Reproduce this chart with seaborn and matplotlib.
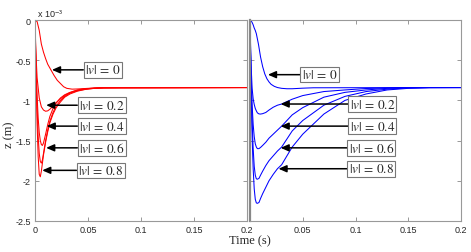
import numpy as np
import pandas as pd
import matplotlib
matplotlib.use('Agg')
import matplotlib.pyplot as plt
import seaborn as sns

# speeds shown in the annotations
speeds = ['0', '0.2', '0.4', '0.6', '0.8']

# left panel (red), z in units of 1e-3 m
red_t = {
    '0':   [0, 0.002, 0.004, 0.006, 0.008, 0.010, 0.012, 0.015, 0.018, 0.021, 0.024, 0.027,
            0.030, 0.035, 0.040, 0.050, 0.060, 0.080, 0.2],
    '0.2': [0, 0.0005, 0.001, 0.002, 0.004, 0.006, 0.008, 0.010, 0.012, 0.014, 0.017, 0.020,
            0.024, 0.028, 0.032, 0.037, 0.043, 0.050, 0.060, 0.2],
    '0.4': [0, 0.0005, 0.001, 0.002, 0.003, 0.004, 0.005, 0.006, 0.007, 0.008, 0.010, 0.012,
            0.014, 0.017, 0.020, 0.024, 0.028, 0.033, 0.040, 0.048, 0.056, 0.065, 0.2],
    '0.6': [0, 0.0005, 0.001, 0.002, 0.003, 0.004, 0.005, 0.006, 0.007, 0.008, 0.010, 0.012,
            0.014, 0.017, 0.020, 0.024, 0.028, 0.033, 0.040, 0.048, 0.056, 0.065, 0.2],
    '0.8': [0, 0.0005, 0.001, 0.002, 0.003, 0.004, 0.005, 0.006, 0.007, 0.008, 0.010, 0.012,
            0.014, 0.017, 0.020, 0.024, 0.028, 0.033, 0.040, 0.048, 0.056, 0.065, 0.2],
}
red_z = {
    '0':   [0, -0.02, -0.13, -0.30, -0.40, -0.48, -0.55, -0.62, -0.69, -0.75, -0.79, -0.83,
            -0.85, -0.86, -0.858, -0.85, -0.845, -0.84, -0.84],
    '0.2': [0, -0.25, -0.45, -0.72, -0.97, -1.08, -1.12, -1.135, -1.13, -1.11, -1.07, -1.03,
            -0.98, -0.94, -0.91, -0.885, -0.865, -0.853, -0.845, -0.84],
    '0.4': [0, -0.3, -0.55, -0.95, -1.22, -1.40, -1.50, -1.55, -1.56, -1.53, -1.42, -1.30,
            -1.20, -1.10, -1.03, -0.97, -0.93, -0.90, -0.87, -0.855, -0.847, -0.842, -0.84],
    '0.6': [0, -0.35, -0.65, -1.1, -1.45, -1.66, -1.76, -1.78, -1.74, -1.66, -1.50, -1.37,
            -1.26, -1.15, -1.07, -1.0, -0.95, -0.91, -0.88, -0.86, -0.85, -0.843, -0.84],
    '0.8': [0, -0.4, -0.75, -1.3, -1.7, -1.92, -1.95, -1.88, -1.78, -1.68, -1.52, -1.39,
            -1.28, -1.17, -1.09, -1.02, -0.96, -0.92, -0.885, -0.862, -0.85, -0.843, -0.84],
}

# right panel (blue)
blue_t0 = [0, 0.001, 0.002, 0.003, 0.004, 0.005, 0.006, 0.008, 0.010, 0.012, 0.014, 0.016,
           0.018, 0.020, 0.023, 0.026, 0.030, 0.035, 0.040, 0.050, 0.060, 0.2]
blue_z0 = [0, -0.01, -0.03, -0.06, -0.1, -0.13, -0.17, -0.3, -0.46, -0.58, -0.67, -0.73,
           -0.77, -0.8, -0.825, -0.84, -0.85, -0.855, -0.855, -0.848, -0.843, -0.84]
blue_t = [0, 0.0005, 0.001, 0.002, 0.003, 0.004, 0.005, 0.006, 0.007, 0.0085, 0.010, 0.012,
          0.015, 0.018, 0.022, 0.026, 0.030, 0.040, 0.050, 0.070, 0.090, 0.110, 0.130,
          0.150, 0.170, 0.2]
blue_z = {
    '0.2': [0, -0.3, -0.55, -0.85, -0.98, -1.05, -1.10, -1.13, -1.155, -1.168, -1.17, -1.165,
            -1.15, -1.12, -1.085, -1.06, -1.045, -0.985, -0.94, -0.89, -0.87, -0.852, -0.845,
            -0.84, -0.84, -0.84],
    '0.4': [0, -0.35, -0.65, -1.05, -1.3, -1.45, -1.54, -1.58, -1.6, -1.6, -1.585, -1.56,
            -1.52, -1.47, -1.42, -1.37, -1.32, -1.18, -1.09, -0.96, -0.90, -0.87, -0.85,
            -0.842, -0.84, -0.84],
    '0.6': [0, -0.4, -0.75, -1.25, -1.6, -1.82, -1.93, -1.975, -1.98, -1.97, -1.93, -1.88,
            -1.81, -1.75, -1.69, -1.63, -1.58, -1.38, -1.25, -1.06, -0.95, -0.89, -0.86,
            -0.845, -0.84, -0.84],
    '0.8': [0, -0.45, -0.85, -1.45, -1.85, -2.1, -2.23, -2.275, -2.28, -2.27, -2.22, -2.16,
            -2.08, -2.0, -1.92, -1.85, -1.8, -1.58, -1.42, -1.17, -1.0, -0.92, -0.87,
            -0.85, -0.842, -0.84],
}

# annotation positions: (arrow tip t, z, text centre t)
red_notes = [(0.016, -0.62, 0.064), (0.0105, -1.06, 0.063), (0.011, -1.32, 0.063),
             (0.0105, -1.59, 0.063), (0.0068, -1.87, 0.062)]
blue_notes = [(0.017, -0.68, 0.066), (0.029, -1.045, 0.116), (0.029, -1.32, 0.116),
              (0.029, -1.59, 0.115), (0.027, -1.85, 0.115)]

xticks = [0, 0.05, 0.1, 0.15, 0.2]
xticklabels = ['0', '0.05', '0.1', '0.15', '0.2']
yticks = [-2.5, -2, -1.5, -1, -0.5, 0]
yticklabels = ['-2.5', '-2', '-1.5', '-1', '-0.5', '0']

rows = []
for v in speeds:
    for t, z in zip(red_t[v], red_z[v]):
        rows.append(('red', v, t, z))
for t, z in zip(blue_t0, blue_z0):
    rows.append(('blue', '0', t, z))
for v in speeds[1:]:
    for t, z in zip(blue_t, blue_z[v]):
        rows.append(('blue', v, t, z))
df = pd.DataFrame(rows, columns=['panel', 'v', 't', 'z'])

sns.set_style('ticks')
plt.rcParams['mathtext.fontset'] = 'stix'
plt.rcParams['font.family'] = ['Liberation Sans', 'DejaVu Sans']

fig = plt.figure(figsize=(4.71, 2.53), dpi=100)
ax1 = fig.add_axes([35/471, 31/253, 212/471, 201/253])
ax2 = fig.add_axes([250/471, 31/253, 211/471, 201/253])

for ax, panel, color, notes in [(ax1, 'red', '#ff0000', red_notes),
                                (ax2, 'blue', '#0000ff', blue_notes)]:
    sns.lineplot(data=df[df.panel == panel], x='t', y='z', hue='v',
                 palette=[color] * 5, estimator=None, legend=False, lw=0.75, ax=ax)
    ax.set_xlim(0, 0.2)
    ax.set_ylim(-2.5, 0)
    ax.set_xticks(xticks)
    ax.set_yticks(yticks)
    ax.set_xlabel('')
    ax.set_ylabel('')
    ax.tick_params(direction='in', length=3, width=0.6, color='#888888',
                   top=True, right=True, labelsize=6.5, pad=3)
    for sp in ax.spines.values():
        sp.set_color('#999999')
        sp.set_linewidth(0.8)
    for (tt, zz, tx), v in zip(notes, speeds):
        ax.annotate(r'$|v|\,=\,%s$' % v, xy=(tt, zz), xytext=(tx, zz),
                    ha='center', va='center', fontsize=9.5,
                    bbox=dict(boxstyle='square,pad=0.1', fc='white', ec='#777777', lw=0.8),
                    arrowprops=dict(arrowstyle='-|>,head_length=0.5,head_width=0.22',
                                    color='black', lw=1.1, shrinkA=0, shrinkB=0))

ax1.set_xticklabels(xticklabels)
ax1.set_yticklabels(yticklabels)
ax2.set_xticklabels([''] + xticklabels[1:])
ax2.set_yticklabels([])
ax2.spines['left'].set_linewidth(1.6)
ax2.spines['left'].set_color('#888888')

fig.text(37/471, 1 - 14/253, r'x 10$^{\mathsf{-3}}$', fontsize=6.5, va='center')
fig.text(250/471, 1 - 241/253, 'Time (s)', family='Liberation Serif', fontsize=9,
         ha='center', va='center')
fig.text(9/471, 1 - 135/253, 'z (m)', family='Liberation Serif', fontsize=9,
         ha='center', va='center', rotation=90)

fig.savefig('out.png', dpi=100)
